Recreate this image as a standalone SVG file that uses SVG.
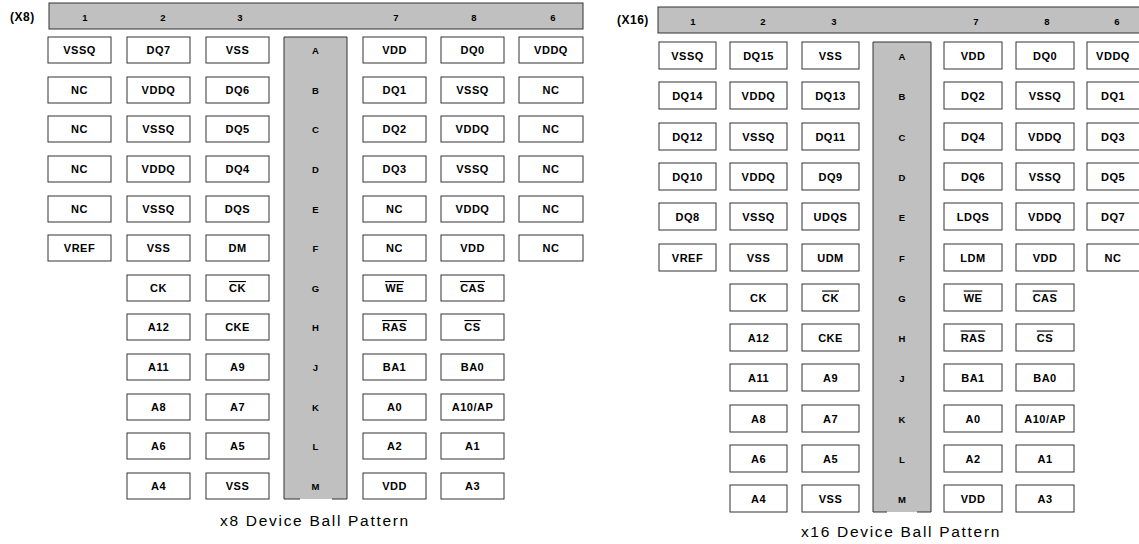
<svg xmlns="http://www.w3.org/2000/svg" width="1139" height="544" viewBox="0 0 1139 544">
<style>
.b{fill:#fff;stroke:#333;stroke-width:1}
.hb{fill:#c0c0c0;stroke:#333;stroke-width:1}
.gf{fill:#c0c0c0;stroke:none}
.gs{fill:none;stroke:#333;stroke-width:1}
.t{font-family:"Liberation Sans",Arial,sans-serif;font-weight:bold;font-size:11px;text-anchor:middle;fill:#000;letter-spacing:0.5px}
.h{font-family:"Liberation Sans",Arial,sans-serif;font-weight:bold;font-size:9.5px;text-anchor:middle;fill:#000}
.lbl{font-family:"Liberation Sans",Arial,sans-serif;font-weight:bold;font-size:12px;fill:#000;letter-spacing:0.5px}
.cap{font-family:"Liberation Sans",Arial,sans-serif;font-size:15.5px;text-anchor:middle;fill:#000;letter-spacing:1.7px}
.o{text-decoration:overline}
</style>
<rect width="1139" height="544" fill="#fff"/>

<g id="x8">
<text class="lbl" x="10" y="21">(X8)</text>
<g id="x8-header">
<rect class="hb" x="49" y="3" width="534" height="26"/>
<text class="h" x="85" y="21">1</text><text class="h" x="163" y="21">2</text><text class="h" x="240" y="21">3</text>
<text class="h" x="396" y="21">7</text><text class="h" x="474" y="21">8</text><text class="h" x="553" y="21">6</text>
</g>
<g id="x8-rows">
<rect class="gf" x="284" y="37" width="63" height="462"/>
<path class="gs" d="M300,499H284V37H347V499H332"/>
<text class="h" x="315.5" y="54">A</text><text class="h" x="315.5" y="94">B</text><text class="h" x="315.5" y="133">C</text><text class="h" x="315.5" y="173">D</text><text class="h" x="315.5" y="213">E</text><text class="h" x="315.5" y="252">F</text><text class="h" x="315.5" y="292">G</text><text class="h" x="315.5" y="331">H</text><text class="h" x="315.5" y="371">J</text><text class="h" x="315.5" y="411">K</text><text class="h" x="315.5" y="450">L</text><text class="h" x="315.5" y="490">M</text>
</g>
<g id="x8-A"><rect class="b" x="48" y="37" width="63" height="26"/><text class="t" x="79.5" y="54">VSSQ</text><rect class="b" x="127" y="37" width="63" height="26"/><text class="t" x="158.5" y="54">DQ7</text><rect class="b" x="206" y="37" width="63" height="26"/><text class="t" x="237.5" y="54">VSS</text><rect class="b" x="363" y="37" width="63" height="26"/><text class="t" x="394.5" y="54">VDD</text><rect class="b" x="441" y="37" width="63" height="26"/><text class="t" x="472.5" y="54">DQ0</text><rect class="b" x="519" y="37" width="64" height="26"/><text class="t" x="551" y="54">VDDQ</text></g>
<g id="x8-B"><rect class="b" x="48" y="77" width="63" height="26"/><text class="t" x="79.5" y="94">NC</text><rect class="b" x="127" y="77" width="63" height="26"/><text class="t" x="158.5" y="94">VDDQ</text><rect class="b" x="206" y="77" width="63" height="26"/><text class="t" x="237.5" y="94">DQ6</text><rect class="b" x="363" y="77" width="63" height="26"/><text class="t" x="394.5" y="94">DQ1</text><rect class="b" x="441" y="77" width="63" height="26"/><text class="t" x="472.5" y="94">VSSQ</text><rect class="b" x="519" y="77" width="64" height="26"/><text class="t" x="551" y="94">NC</text></g>
<g id="x8-C"><rect class="b" x="48" y="116" width="63" height="26"/><text class="t" x="79.5" y="133">NC</text><rect class="b" x="127" y="116" width="63" height="26"/><text class="t" x="158.5" y="133">VSSQ</text><rect class="b" x="206" y="116" width="63" height="26"/><text class="t" x="237.5" y="133">DQ5</text><rect class="b" x="363" y="116" width="63" height="26"/><text class="t" x="394.5" y="133">DQ2</text><rect class="b" x="441" y="116" width="63" height="26"/><text class="t" x="472.5" y="133">VDDQ</text><rect class="b" x="519" y="116" width="64" height="26"/><text class="t" x="551" y="133">NC</text></g>
<g id="x8-D"><rect class="b" x="48" y="156" width="63" height="26"/><text class="t" x="79.5" y="173">NC</text><rect class="b" x="127" y="156" width="63" height="26"/><text class="t" x="158.5" y="173">VDDQ</text><rect class="b" x="206" y="156" width="63" height="26"/><text class="t" x="237.5" y="173">DQ4</text><rect class="b" x="363" y="156" width="63" height="26"/><text class="t" x="394.5" y="173">DQ3</text><rect class="b" x="441" y="156" width="63" height="26"/><text class="t" x="472.5" y="173">VSSQ</text><rect class="b" x="519" y="156" width="64" height="26"/><text class="t" x="551" y="173">NC</text></g>
<g id="x8-E"><rect class="b" x="48" y="196" width="63" height="26"/><text class="t" x="79.5" y="213">NC</text><rect class="b" x="127" y="196" width="63" height="26"/><text class="t" x="158.5" y="213">VSSQ</text><rect class="b" x="206" y="196" width="63" height="26"/><text class="t" x="237.5" y="213">DQS</text><rect class="b" x="363" y="196" width="63" height="26"/><text class="t" x="394.5" y="213">NC</text><rect class="b" x="441" y="196" width="63" height="26"/><text class="t" x="472.5" y="213">VDDQ</text><rect class="b" x="519" y="196" width="64" height="26"/><text class="t" x="551" y="213">NC</text></g>
<g id="x8-F"><rect class="b" x="48" y="235" width="63" height="26"/><text class="t" x="79.5" y="252">VREF</text><rect class="b" x="127" y="235" width="63" height="26"/><text class="t" x="158.5" y="252">VSS</text><rect class="b" x="206" y="235" width="63" height="26"/><text class="t" x="237.5" y="252">DM</text><rect class="b" x="363" y="235" width="63" height="26"/><text class="t" x="394.5" y="252">NC</text><rect class="b" x="441" y="235" width="63" height="26"/><text class="t" x="472.5" y="252">VDD</text><rect class="b" x="519" y="235" width="64" height="26"/><text class="t" x="551" y="252">NC</text></g>
<g id="x8-G"><rect class="b" x="127" y="275" width="63" height="26"/><text class="t" x="158.5" y="292">CK</text><rect class="b" x="206" y="275" width="63" height="26"/><text class="t o" x="237.5" y="292">CK</text><rect class="b" x="363" y="275" width="63" height="26"/><text class="t o" x="394.5" y="292">WE</text><rect class="b" x="441" y="275" width="63" height="26"/><text class="t o" x="472.5" y="292">CAS</text></g>
<g id="x8-H"><rect class="b" x="127" y="314" width="63" height="26"/><text class="t" x="158.5" y="331">A12</text><rect class="b" x="206" y="314" width="63" height="26"/><text class="t" x="237.5" y="331">CKE</text><rect class="b" x="363" y="314" width="63" height="26"/><text class="t o" x="394.5" y="331">RAS</text><rect class="b" x="441" y="314" width="63" height="26"/><text class="t o" x="472.5" y="331">CS</text></g>
<g id="x8-J"><rect class="b" x="127" y="354" width="63" height="26"/><text class="t" x="158.5" y="371">A11</text><rect class="b" x="206" y="354" width="63" height="26"/><text class="t" x="237.5" y="371">A9</text><rect class="b" x="363" y="354" width="63" height="26"/><text class="t" x="394.5" y="371">BA1</text><rect class="b" x="441" y="354" width="63" height="26"/><text class="t" x="472.5" y="371">BA0</text></g>
<g id="x8-K"><rect class="b" x="127" y="394" width="63" height="26"/><text class="t" x="158.5" y="411">A8</text><rect class="b" x="206" y="394" width="63" height="26"/><text class="t" x="237.5" y="411">A7</text><rect class="b" x="363" y="394" width="63" height="26"/><text class="t" x="394.5" y="411">A0</text><rect class="b" x="441" y="394" width="63" height="26"/><text class="t" x="472.5" y="411">A10/AP</text></g>
<g id="x8-L"><rect class="b" x="127" y="433" width="63" height="26"/><text class="t" x="158.5" y="450">A6</text><rect class="b" x="206" y="433" width="63" height="26"/><text class="t" x="237.5" y="450">A5</text><rect class="b" x="363" y="433" width="63" height="26"/><text class="t" x="394.5" y="450">A2</text><rect class="b" x="441" y="433" width="63" height="26"/><text class="t" x="472.5" y="450">A1</text></g>
<g id="x8-M"><rect class="b" x="127" y="473" width="63" height="26"/><text class="t" x="158.5" y="490">A4</text><rect class="b" x="206" y="473" width="63" height="26"/><text class="t" x="237.5" y="490">VSS</text><rect class="b" x="363" y="473" width="63" height="26"/><text class="t" x="394.5" y="490">VDD</text><rect class="b" x="441" y="473" width="63" height="26"/><text class="t" x="472.5" y="490">A3</text></g>
<text class="cap" x="315" y="526">x8 Device Ball Pattern</text>
</g>

<g id="x16">
<text class="lbl" x="617" y="24">(X16)</text>
<g id="x16-header">
<rect class="hb" x="658" y="7" width="490" height="26"/>
<text class="h" x="693" y="25">1</text><text class="h" x="763" y="25">2</text><text class="h" x="834" y="25">3</text>
<text class="h" x="976" y="25">7</text><text class="h" x="1047" y="25">8</text><text class="h" x="1117" y="25">6</text>
</g>
<g id="x16-rows">
<rect class="gf" x="873" y="42" width="58" height="470"/>
<path class="gs" d="M887,512H873V42H931V512H917"/>
<text class="h" x="902" y="60">A</text><text class="h" x="902" y="100">B</text><text class="h" x="902" y="141">C</text><text class="h" x="902" y="181">D</text><text class="h" x="902" y="221">E</text><text class="h" x="902" y="262">F</text><text class="h" x="902" y="302">G</text><text class="h" x="902" y="342">H</text><text class="h" x="902" y="382">J</text><text class="h" x="902" y="423">K</text><text class="h" x="902" y="463">L</text><text class="h" x="902" y="503">M</text>
</g>
<g id="x16-A"><rect class="b" x="659" y="42" width="57" height="27"/><text class="t" x="687.5" y="59.5">VSSQ</text><rect class="b" x="730" y="42" width="57" height="27"/><text class="t" x="758.5" y="59.5">DQ15</text><rect class="b" x="802" y="42" width="57" height="27"/><text class="t" x="830.5" y="59.5">VSS</text><rect class="b" x="944" y="42" width="58" height="27"/><text class="t" x="973" y="59.5">VDD</text><rect class="b" x="1016" y="42" width="58" height="27"/><text class="t" x="1045" y="59.5">DQ0</text><rect class="b" x="1087" y="42" width="58" height="27"/><text class="t" x="1113" y="59.5">VDDQ</text></g>
<g id="x16-B"><rect class="b" x="659" y="82" width="57" height="27"/><text class="t" x="687.5" y="99.5">DQ14</text><rect class="b" x="730" y="82" width="57" height="27"/><text class="t" x="758.5" y="99.5">VDDQ</text><rect class="b" x="802" y="82" width="57" height="27"/><text class="t" x="830.5" y="99.5">DQ13</text><rect class="b" x="944" y="82" width="58" height="27"/><text class="t" x="973" y="99.5">DQ2</text><rect class="b" x="1016" y="82" width="58" height="27"/><text class="t" x="1045" y="99.5">VSSQ</text><rect class="b" x="1087" y="82" width="58" height="27"/><text class="t" x="1113" y="99.5">DQ1</text></g>
<g id="x16-C"><rect class="b" x="659" y="123" width="57" height="27"/><text class="t" x="687.5" y="140.5">DQ12</text><rect class="b" x="730" y="123" width="57" height="27"/><text class="t" x="758.5" y="140.5">VSSQ</text><rect class="b" x="802" y="123" width="57" height="27"/><text class="t" x="830.5" y="140.5">DQ11</text><rect class="b" x="944" y="123" width="58" height="27"/><text class="t" x="973" y="140.5">DQ4</text><rect class="b" x="1016" y="123" width="58" height="27"/><text class="t" x="1045" y="140.5">VDDQ</text><rect class="b" x="1087" y="123" width="58" height="27"/><text class="t" x="1113" y="140.5">DQ3</text></g>
<g id="x16-D"><rect class="b" x="659" y="163" width="57" height="27"/><text class="t" x="687.5" y="180.5">DQ10</text><rect class="b" x="730" y="163" width="57" height="27"/><text class="t" x="758.5" y="180.5">VDDQ</text><rect class="b" x="802" y="163" width="57" height="27"/><text class="t" x="830.5" y="180.5">DQ9</text><rect class="b" x="944" y="163" width="58" height="27"/><text class="t" x="973" y="180.5">DQ6</text><rect class="b" x="1016" y="163" width="58" height="27"/><text class="t" x="1045" y="180.5">VSSQ</text><rect class="b" x="1087" y="163" width="58" height="27"/><text class="t" x="1113" y="180.5">DQ5</text></g>
<g id="x16-E"><rect class="b" x="659" y="203" width="57" height="27"/><text class="t" x="687.5" y="220.5">DQ8</text><rect class="b" x="730" y="203" width="57" height="27"/><text class="t" x="758.5" y="220.5">VSSQ</text><rect class="b" x="802" y="203" width="57" height="27"/><text class="t" x="830.5" y="220.5">UDQS</text><rect class="b" x="944" y="203" width="58" height="27"/><text class="t" x="973" y="220.5">LDQS</text><rect class="b" x="1016" y="203" width="58" height="27"/><text class="t" x="1045" y="220.5">VDDQ</text><rect class="b" x="1087" y="203" width="58" height="27"/><text class="t" x="1113" y="220.5">DQ7</text></g>
<g id="x16-F"><rect class="b" x="659" y="244" width="57" height="27"/><text class="t" x="687.5" y="261.5">VREF</text><rect class="b" x="730" y="244" width="57" height="27"/><text class="t" x="758.5" y="261.5">VSS</text><rect class="b" x="802" y="244" width="57" height="27"/><text class="t" x="830.5" y="261.5">UDM</text><rect class="b" x="944" y="244" width="58" height="27"/><text class="t" x="973" y="261.5">LDM</text><rect class="b" x="1016" y="244" width="58" height="27"/><text class="t" x="1045" y="261.5">VDD</text><rect class="b" x="1087" y="244" width="58" height="27"/><text class="t" x="1113" y="261.5">NC</text></g>
<g id="x16-G"><rect class="b" x="730" y="284" width="57" height="27"/><text class="t" x="758.5" y="301.5">CK</text><rect class="b" x="802" y="284" width="57" height="27"/><text class="t o" x="830.5" y="301.5">CK</text><rect class="b" x="944" y="284" width="58" height="27"/><text class="t o" x="973" y="301.5">WE</text><rect class="b" x="1016" y="284" width="58" height="27"/><text class="t o" x="1045" y="301.5">CAS</text></g>
<g id="x16-H"><rect class="b" x="730" y="324" width="57" height="27"/><text class="t" x="758.5" y="341.5">A12</text><rect class="b" x="802" y="324" width="57" height="27"/><text class="t" x="830.5" y="341.5">CKE</text><rect class="b" x="944" y="324" width="58" height="27"/><text class="t o" x="973" y="341.5">RAS</text><rect class="b" x="1016" y="324" width="58" height="27"/><text class="t o" x="1045" y="341.5">CS</text></g>
<g id="x16-J"><rect class="b" x="730" y="364" width="57" height="27"/><text class="t" x="758.5" y="381.5">A11</text><rect class="b" x="802" y="364" width="57" height="27"/><text class="t" x="830.5" y="381.5">A9</text><rect class="b" x="944" y="364" width="58" height="27"/><text class="t" x="973" y="381.5">BA1</text><rect class="b" x="1016" y="364" width="58" height="27"/><text class="t" x="1045" y="381.5">BA0</text></g>
<g id="x16-K"><rect class="b" x="730" y="405" width="57" height="27"/><text class="t" x="758.5" y="422.5">A8</text><rect class="b" x="802" y="405" width="57" height="27"/><text class="t" x="830.5" y="422.5">A7</text><rect class="b" x="944" y="405" width="58" height="27"/><text class="t" x="973" y="422.5">A0</text><rect class="b" x="1016" y="405" width="58" height="27"/><text class="t" x="1045" y="422.5">A10/AP</text></g>
<g id="x16-L"><rect class="b" x="730" y="445" width="57" height="27"/><text class="t" x="758.5" y="462.5">A6</text><rect class="b" x="802" y="445" width="57" height="27"/><text class="t" x="830.5" y="462.5">A5</text><rect class="b" x="944" y="445" width="58" height="27"/><text class="t" x="973" y="462.5">A2</text><rect class="b" x="1016" y="445" width="58" height="27"/><text class="t" x="1045" y="462.5">A1</text></g>
<g id="x16-M"><rect class="b" x="730" y="485" width="57" height="27"/><text class="t" x="758.5" y="502.5">A4</text><rect class="b" x="802" y="485" width="57" height="27"/><text class="t" x="830.5" y="502.5">VSS</text><rect class="b" x="944" y="485" width="58" height="27"/><text class="t" x="973" y="502.5">VDD</text><rect class="b" x="1016" y="485" width="58" height="27"/><text class="t" x="1045" y="502.5">A3</text></g>
<text class="cap" x="901" y="537">x16 Device Ball Pattern</text>
</g>
<g id="connectors"/>
</svg>
